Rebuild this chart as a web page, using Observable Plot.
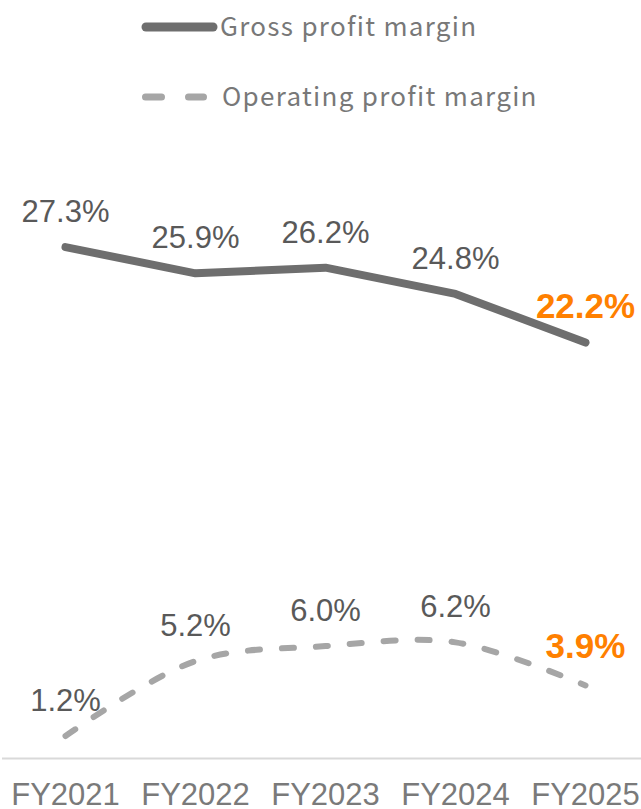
<!DOCTYPE html>
<html><head><meta charset="utf-8">
<script src="https://cdn.jsdelivr.net/npm/d3@7"></script>
<script src="https://cdn.jsdelivr.net/npm/@observablehq/plot@0.6"></script>
<style>
body{margin:0;background:#fff;width:641px;height:809px;overflow:hidden}
#legend{position:relative;height:130px;width:641px}
.row{position:absolute;display:flex;align-items:center;height:40px;font-family:"Noto Sans CJK JP","Noto Sans",sans-serif;font-size:26px;letter-spacing:1.3px;color:#787878;white-space:nowrap}
.row svg{display:block}
.row span{position:relative;top:-3px}
</style></head><body>
<div id="legend"></div><div id="chart"></div>
<script>
const years = ["FY2021","FY2022","FY2023","FY2024","FY2025"];
const grossMargin = [27.3,25.9,26.2,24.8,22.2];
const operatingMargin = [1.2,5.2,6.0,6.2,3.9];
const seriesNames = ["Gross profit margin","Operating profit margin"];
const highlightYear = "FY2025";

const grossColor = "#6e6e6e", opColor = "#a6a6a6", hiColor = "#ff8000";

// legend
const legend = document.getElementById("legend");
legend.innerHTML = `
<div class="row" style="top:7px;left:138px"><svg width="82" height="40"><line x1="8" y1="20" x2="75" y2="20" stroke="${grossColor}" stroke-width="9" stroke-linecap="round"/></svg><span>${seriesNames[0]}</span></div>
<div class="row" style="top:77px;left:138px"><svg width="84" height="40"><line x1="7.5" y1="20" x2="65.5" y2="20" stroke="${opColor}" stroke-width="7" stroke-linecap="round" stroke-dasharray="16,27"/></svg><span>${seriesNames[1]}</span></div>`;

const rows = years.map((year, i) => ({year, gross: grossMargin[i], op: operatingMargin[i]}));
const fmt = v => v.toFixed(1) + "%";
const regular = rows.filter(d => d.year !== highlightYear);
const hi = rows.filter(d => d.year === highlightYear);

const chart = Plot.plot({
  width: 641,
  height: 679,
  marginLeft: 65,
  marginRight: 56,
  marginTop: 66,
  marginBottom: 51,
  style: {fontFamily: "Liberation Sans, Arial, sans-serif", background: "white", overflow: "visible"},
  x: {type: "point", domain: years, padding: 0},
  y: {domain: [0, 30], axis: null},
  marks: [
    Plot.ruleY([0], {stroke: "#d9d9d9", strokeWidth: 2, insetLeft: -63, insetRight: -56}),
    Plot.axisX({tickSize: 0, tickPadding: 24, fontSize: 31, fontFamily: "Liberation Sans Narrow, Arial Narrow, sans-serif", color: "#7a7a7a", label: null}),
    Plot.line(rows, {x: "year", y: "gross", stroke: grossColor, strokeWidth: 8, strokeLinecap: "round", strokeLinejoin: "round"}),
    Plot.line(rows, {x: "year", y: "op", stroke: opColor, strokeWidth: 6, strokeDasharray: "12,22", strokeLinecap: "round", curve: "catmull-rom"}),
    Plot.text(regular, {x: "year", y: "gross", text: d => fmt(d.gross), lineAnchor: "bottom", dy: -25, fontSize: 31, fill: "#595959"}),
    Plot.text(regular, {x: "year", y: "op", text: d => fmt(d.op), lineAnchor: "bottom", dy: -25, fontSize: 31, fill: "#595959"}),
    Plot.text(hi, {x: "year", y: "gross", text: d => fmt(d.gross), lineAnchor: "bottom", dy: -25, fontSize: 35, fontWeight: "bold", fill: hiColor}),
    Plot.text(hi, {x: "year", y: "op", text: d => fmt(d.op), lineAnchor: "bottom", dy: -27, fontSize: 35, fontWeight: "bold", fill: hiColor})
  ]
});
document.getElementById("chart").appendChild(chart);
</script>
</body></html>
